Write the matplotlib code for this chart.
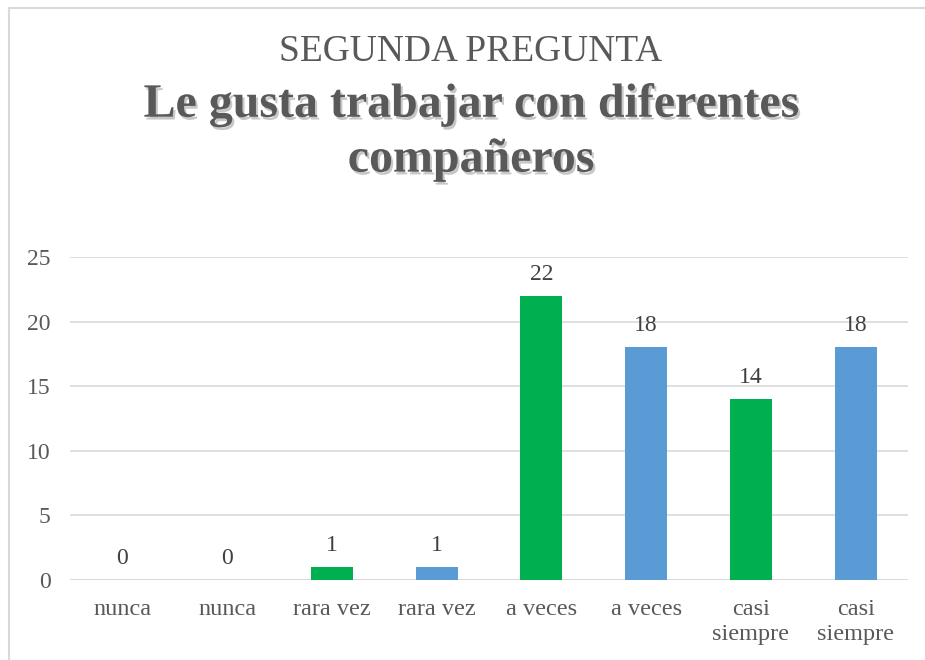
import matplotlib
matplotlib.use("Agg")
import matplotlib.pyplot as plt
import matplotlib.patheffects as pe
from matplotlib.lines import Line2D

categories = ["nunca", "nunca", "rara vez", "rara vez", "a veces", "a veces", "casi\nsiempre", "casi\nsiempre"]
values = [0, 0, 1, 1, 22, 18, 14, 18]
colors = ["#00B050", "#5B9BD5", "#00B050", "#5B9BD5", "#00B050", "#5B9BD5", "#00B050", "#5B9BD5"]
yticks = [0, 5, 10, 15, 20, 25]

plt.rcParams['font.family'] = ['Liberation Serif', 'DejaVu Serif']

fig = plt.figure(figsize=(9.25, 6.6), dpi=100)
ax = fig.add_axes([0.0757, 0.1212, 0.9059, 0.4894])

x = list(range(len(categories)))
ax.bar(x, values, width=0.4, color=colors, zorder=3)
ax.set_xlim(-0.5, len(categories) - 0.5)
ax.set_ylim(0, 25)
ax.set_yticks(yticks)
ax.set_xticks(x)
ax.set_xticklabels(categories, fontsize=17.5, color="#595959", linespacing=1.2)
ax.tick_params(axis='y', labelsize=17, labelcolor="#595959", length=0, pad=14)
ax.tick_params(axis='x', length=0, pad=14)
ax.grid(axis='y', color="#D9D9D9", linewidth=1.2, zorder=0)
for s in ax.spines.values():
    s.set_visible(False)
ax.axhline(0, color="#D9D9D9", linewidth=1.2, zorder=2)

for xi, v in zip(x, values):
    ax.annotate(str(v), (xi, v), xytext=(0, 8), textcoords="offset points",
                ha="center", va="bottom", fontsize=17, color="#404040")

cx = 471 / 925
fig.text(cx, 1 - 52 / 660, "SEGUNDA PREGUNTA", ha="center", va="center",
         fontsize=27, color="#595959")
shadow = [pe.SimplePatchShadow(offset=(1.5, -2), shadow_rgbFace="#999999", alpha=0.55), pe.Normal()]
fig.text(cx, 1 - 132 / 660, "Le gusta trabajar con diferentes\ncompañeros", ha="center", va="center",
         fontsize=34.5, fontweight="bold", color="#595959", linespacing=1.32,
         path_effects=shadow)

# outer border (top and left visible)
fig.add_artist(Line2D([9 / 925, 9 / 925], [0, 1 - 8 / 660], transform=fig.transFigure, color="#D9D9D9", linewidth=1.5))
fig.add_artist(Line2D([9 / 925, 1], [1 - 8 / 660, 1 - 8 / 660], transform=fig.transFigure, color="#D9D9D9", linewidth=1.5))

fig.savefig("out.png", dpi=100)
